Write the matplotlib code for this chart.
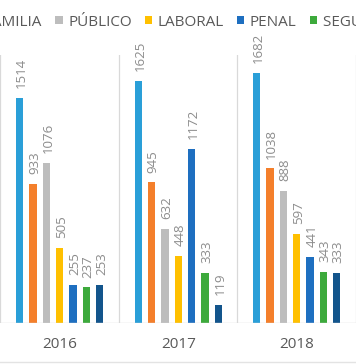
import numpy as np
import matplotlib
matplotlib.use("Agg")
import matplotlib.pyplot as plt
from matplotlib.patches import Patch
from matplotlib.lines import Line2D

plt.rcParams['font.family'] = ['Open Sans', 'DejaVu Sans']

# data
years = ["2016", "2017", "2018"]
series_names = ["CIVIL", "FAMILIA", "PÚBLICO", "LABORAL", "PENAL", "SEGURIDAD SOCIAL", "OTROS"]
civil = [1514, 1625, 1682]
familia = [933, 945, 1038]
publico = [1076, 632, 888]
laboral = [505, 448, 597]
penal = [255, 1172, 441]
seguridad = [237, 333, 343]
otros = [253, 119, 333]
series_values = [civil, familia, publico, laboral, penal, seguridad, otros]
series_colors = ["#2A9FD8", "#F47F2B", "#BDBDBD", "#FFC000", "#1E6FC0", "#3DAA3C", "#13558C"]

W, H = 356, 364
fig = plt.figure(figsize=(W/100, H/100), dpi=100)
ax = fig.add_axes([0.45/W, 41.3/H, 355.5/W, 267.5/H])

x = np.arange(len(years))
step = 0.1125
width = 0.062
n = len(series_values)
for i, (vals, col) in enumerate(zip(series_values, series_colors)):
    pos = x + (i - (n-1)/2) * step
    ax.bar(pos, vals, width=width, color=col, zorder=3)
    for xp, v in zip(pos, vals):
        ax.annotate(str(v), (xp, v), xytext=(1.2, 7), textcoords='offset points',
                    rotation=90, ha='center', va='bottom', fontsize=9.5,
                    color='#8C8C8C', annotation_clip=False)

ax.set_xlim(-0.5, len(years) - 0.5)
ax.set_ylim(0, 1800)
ax.set_xticks(x)
ax.set_xticklabels(years, fontsize=11, color='#595959')
ax.tick_params(axis='x', length=0, pad=10.5)
ax.set_xticks(np.arange(len(years) + 1) - 0.5, minor=True)
ax.tick_params(axis='x', which='minor', length=0)
ax.grid(which='minor', axis='x', color='#D9D9D9', linewidth=0.9, zorder=0)
ax.set_yticks([])
for s in ax.spines.values():
    s.set_visible(False)
ax.axhline(0, color='#D9D9D9', linewidth=1.0, zorder=4)

# legend, cropped on both sides like the original
handles = [Patch(facecolor=c, edgecolor='none') for c in series_colors]
leg_y = 1 - 22/H
leg = fig.legend(handles, series_names, loc='center left', bbox_to_anchor=(0, leg_y),
                 ncol=n, frameon=False, fontsize=11, labelcolor='#595959',
                 handlelength=0.5, handleheight=0.5, handletextpad=0.35,
                 columnspacing=0.85, borderpad=0, borderaxespad=0)
fig.canvas.draw()
bb = leg.get_texts()[2].get_window_extent(fig.canvas.get_renderer())
shift = 68 - bb.x0
leg.set_bbox_to_anchor((shift/W, leg_y), transform=fig.transFigure)

# thin border line at the bottom of the chart
fig.add_artist(Line2D([0, 1], [2.5/H, 2.5/H], transform=fig.transFigure,
                      color='#E3E3E3', linewidth=1.0))

fig.savefig("out.png", dpi=100)
